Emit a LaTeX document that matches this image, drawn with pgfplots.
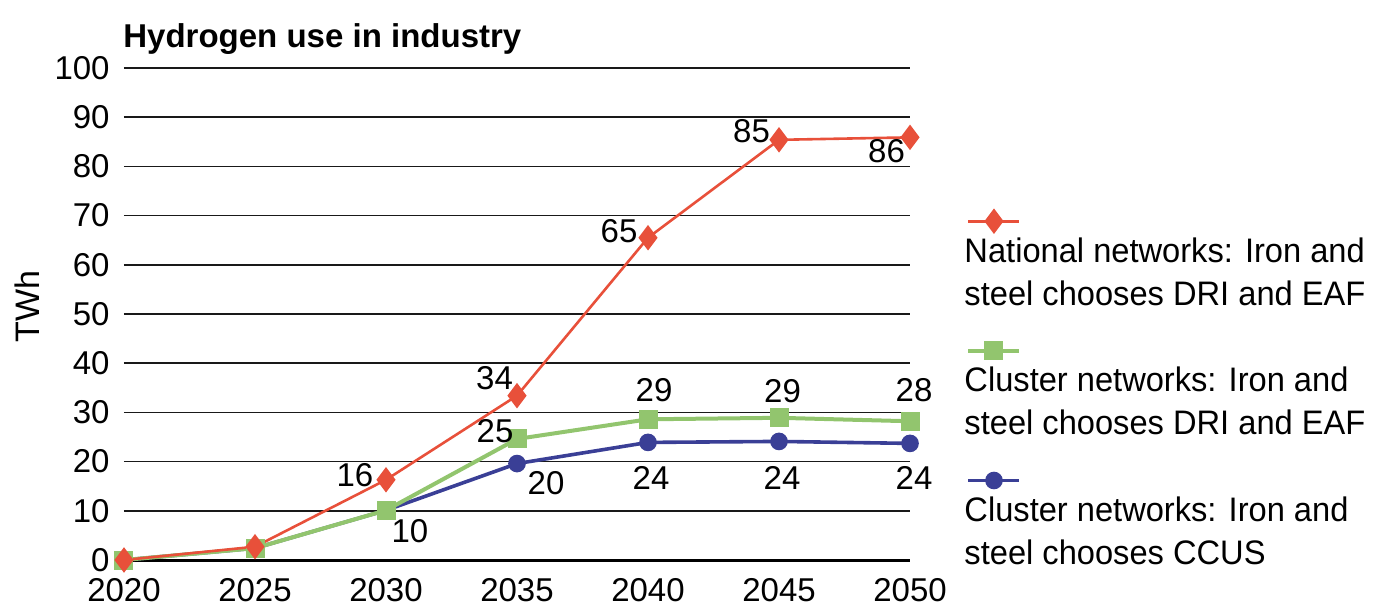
\documentclass[border=0pt]{standalone}
\usepackage{pgfplots}
\pgfplotsset{compat=1.18}
\usepackage{pgfplotstable}
\usepackage{fontspec}
\setmainfont{Liberation Sans}
\newfontfamily\legfont[FakeStretch=0.96]{Liberation Sans}
\definecolor{cred}{HTML}{E8503A}
\definecolor{cgreen}{HTML}{92C56E}
\definecolor{cblue}{HTML}{3A3F96}

\pgfplotstableread{
x y
2020 0
2025 2.7
2030 16.3
2035 33.4
2040 65.5
2045 85.4
2050 85.9
}\redtab
\pgfplotstableread{
x y
2020 0
2025 2.4
2030 10.1
2035 24.6
2040 28.6
2045 28.9
2050 28.2
}\greentab
\pgfplotstableread{
x y
2020 0
2025 2.4
2030 10.1
2035 19.6
2040 23.9
2045 24.1
2050 23.7
}\bluetab

\pgfplotstableread{
x y lab dx dy
2030 16.3 16 -15.5 2.75
2035 33.4 34 -11.25 8.75
2040 65.5 65 -14.5 3.25
2045 85.4 85 -13.75 4.5
2050 85.9 86 -11.75 -6.5
}\redlab
\pgfplotstableread{
x y lab dx dy
2035 24.6 25 -11 4.25
2040 28.6 29 3 14.5
2045 28.9 29 1.75 13.5
2050 28.2 28 2 15.5
}\greenlab
\pgfplotstableread{
x y lab dx dy
2030 10.1 10 12 -10.25
2035 19.6 20 14.5 -9.75
2040 23.9 24 1.5 -17.5
2045 24.1 24 1.5 -18
2050 23.7 24 2 -17
}\bluelab

\pgfplotsset{
  labelplot/.style={
    draw=none, mark=none, forget plot,
    nodes near coords, point meta=explicit symbolic,
    visualization depends on={\thisrow{dx}\as\ldx},
    visualization depends on={\thisrow{dy}\as\ldy},
    nodes near coords style={anchor=center, xshift=\ldx pt, yshift=\ldy pt,
      inner sep=0pt, text height=11.7pt, text depth=0pt,
      font=\fontsize{16.5}{18}\selectfont, text=black},
  },
}

\begin{document}
\begin{tikzpicture}
\path[use as bounding box] (-62pt,-25pt) rectangle (630pt,280pt);
\begin{axis}[
  at={(0pt,0pt)}, anchor=south west,
  scale only axis, width=393pt, height=246pt,
  xmin=2020, xmax=2050, ymin=0, ymax=100,
  xtick={2020,2025,...,2050},
  ytick={0,10,...,100},
  /pgf/number format/1000 sep={},
  /pgf/number format/assume math mode=true,
  tick label style={font=\fontsize{16.5}{18}\selectfont},
  yticklabel style={inner sep=0pt, anchor=east, xshift=-7pt},
  xticklabel style={inner sep=0pt, anchor=north, yshift=-9pt},
  major tick length=0pt,
  tick style={draw=none},
  axis line style={draw=none},
  ymajorgrids,
  grid style={line width=0.75pt, black!90},
  extra y ticks={0}, extra y tick labels={},
  extra y tick style={grid style={line width=1.5pt, black}},
  clip=false,
  every axis y label/.style={at={(axis description cs:-0.1234,0.516)}, rotate=90, anchor=center, font=\fontsize{17}{20}\selectfont},
  ylabel={TWh},
  every axis title/.style={at={(axis description cs:0,1)}, anchor=base west, inner sep=0pt, yshift=10pt, xshift=-0.5pt, font=\bfseries\fontsize{16.5}{19}\selectfont},
  title={Hydrogen use in industry},
  reverse legend,
  legend cell align=left,
  legend style={at={(axis description cs:1.0637,0.6565)}, anchor=north west,
    draw=none, fill=none, inner xsep=0pt, inner ysep=0pt,
    row sep=31pt, column sep=0pt,
    font=\legfont\fontsize{17}{21.5}\selectfont,
    nodes={inner sep=0pt, text depth=0pt, align=left}},
  legend image code/.code={%
    \path (0pt,0pt);
    \draw[overlay,mark repeat=2,mark phase=2,#1,xshift=3pt,yshift=25pt]
      plot coordinates {(0pt,0pt) (12.75pt,0pt) (25.5pt,0pt)};
  },
]
\addplot[color=cblue, line width=1.8pt, mark=*, mark size=3.5pt, mark options={solid, fill=cblue, draw=none}] table[x=x,y=y] {\bluetab};
\addlegendentry{Cluster networks: Iron and\\steel chooses CCUS}
\addplot[color=cgreen, line width=2pt, mark=square*, mark size=3.75pt, mark options={solid, fill=cgreen, draw=none}] table[x=x,y=y] {\greentab};
\addlegendentry{Cluster networks: Iron and\\steel chooses DRI and EAF}
\addplot[color=cred, line width=1.3pt, mark=diamond*, mark size=5.3pt, mark options={solid, fill=cred, draw=none}] table[x=x,y=y] {\redtab};
\addlegendentry{National networks: Iron and\\steel chooses DRI and EAF}

\addplot[labelplot] table[x=x,y=y,meta=lab] {\bluelab};
\addplot[labelplot] table[x=x,y=y,meta=lab] {\greenlab};
\addplot[labelplot] table[x=x,y=y,meta=lab] {\redlab};
\end{axis}
\end{tikzpicture}
\end{document}
